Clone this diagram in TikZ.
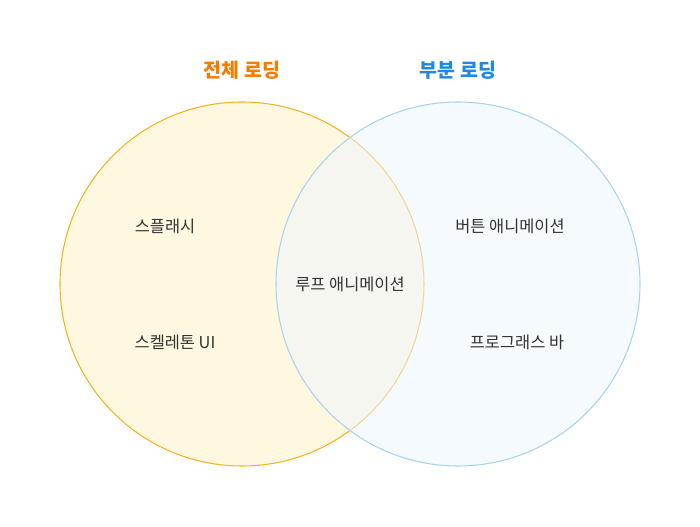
\documentclass[tikz,border=0pt]{standalone}
\usepackage{fontspec}
\setmainfont{Noto Sans CJK KR}
\usepackage{xcolor}
\usetikzlibrary{positioning}
\definecolor{fullfill}{HTML}{FFF8E1}
\definecolor{fullline}{HTML}{F5B324}
\definecolor{partfill}{HTML}{EEF6FE}
\definecolor{partline}{HTML}{A9D3F2}
\definecolor{fulltitle}{HTML}{F57C00}
\definecolor{parttitle}{HTML}{1E88E5}
\definecolor{labeltext}{HTML}{333333}

\begin{document}
\begin{tikzpicture}[x=0.75pt,y=-0.75pt,
  label/.style={text=labeltext,font=\fontsize{12.3}{14}\selectfont},
  title/.style={font=\fontsize{14.6}{17}\selectfont\bfseries}]
  \useasboundingbox (0,0) rectangle (700,527);
  \fill[white] (0,0) rectangle (700,527);
  % circles
  \coordinate (cFull) at (242,284);
  \coordinate (cPart) at (458,284);
  \filldraw[fill=fullfill,draw=fullline,line width=0.8pt] (cFull) circle (182);
  \fill[partfill,opacity=0.55] (cPart) circle (182);
  \draw[partline,line width=0.8pt] (cPart) circle (182);
  % titles
  \node[title,fulltitle] (tFull) at (242,70) {전체 로딩};
  \node[title,parttitle] (tPart) at (458,70) {부분 로딩};
  % labels
  \node[label] (splash) at (165,226) {스플래시};
  \node[label] (skeleton) at (175,342) {스켈레톤 UI};
  \node[label] (loop) at (350,284) {루프 애니메이션};
  \node[label] (button) at (510,226) {버튼 애니메이션};
  \node[label] (progress) at (517,342) {프로그래스 바};
\end{tikzpicture}
\end{document}
